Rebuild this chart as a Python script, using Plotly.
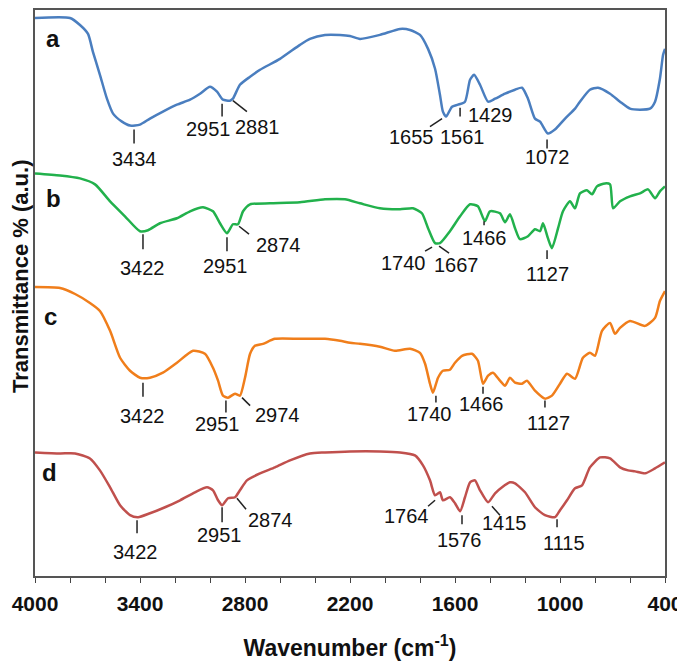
import plotly.graph_objects as go

# FTIR spectra, wavenumber (cm-1) vs. transmittance (arbitrary units, curves offset)
wn_a = [4000, 3800, 3743, 3697, 3669, 3629, 3589, 3554, 3503, 3457, 3400, 3343, 3269, 3189,
        3114, 3057, 3000, 2960, 2926, 2886, 2869, 2829, 2771, 2714, 2600, 2486, 2429, 2343,
        2257, 2200, 2143, 2029, 1914, 1857, 1800, 1754, 1714, 1686, 1669, 1651, 1617, 1583,
        1543, 1514, 1491, 1457, 1411, 1371, 1314, 1257, 1217, 1183, 1143, 1114, 1069, 1029,
        971, 914, 886, 829, 783, 714, 657, 600, 543, 486, 457, 429, 411, 400]
t_a = [560, 560, 553, 544, 526, 503, 479, 464, 456, 452, 453, 459, 466, 473,
       478, 484, 491, 486, 478, 477, 479, 493, 501, 508, 519, 533, 539, 543,
       543, 542, 539, 543, 549, 548, 543, 529, 509, 483, 466, 461, 471, 473,
       476, 498, 503, 493, 476, 479, 484, 488, 490, 479, 459, 456, 444, 448,
       459, 469, 476, 488, 490, 484, 476, 469, 468, 469, 476, 499, 523, 529]

wn_b = [4000, 3857, 3743, 3657, 3571, 3486, 3400, 3354, 3286, 3189, 3114, 3040, 2983, 2943,
        2903, 2869, 2840, 2811, 2771, 2657, 2486, 2343, 2229, 2143, 2029, 1914, 1840, 1789,
        1754, 1714, 1686, 1629, 1571, 1514, 1469, 1429, 1400, 1343, 1314, 1286, 1257, 1229,
        1183, 1143, 1114, 1097, 1069, 1046, 1011, 983, 943, 914, 886, 846, 817, 789,
        743, 714, 697, 657, 600, 543, 497, 457, 429, 400]
t_b = [404, 402, 399, 393, 376, 361, 346, 347, 354, 359, 366, 370, 366, 354,
       344, 353, 353, 366, 373, 374, 375, 378, 378, 374, 369, 368, 369, 364,
       349, 334, 334, 346, 361, 373, 371, 356, 366, 364, 355, 363, 349, 338,
       341, 348, 346, 354, 339, 329, 349, 366, 376, 369, 384, 387, 383, 391,
       394, 393, 369, 376, 381, 384, 388, 379, 386, 391]

wn_c = [4000, 3857, 3771, 3686, 3629, 3571, 3514, 3457, 3400, 3343, 3269, 3189, 3097, 3029,
        2983, 2954, 2926, 2897, 2857, 2829, 2800, 2771, 2743, 2697, 2629, 2486, 2343, 2257,
        2200, 2143, 2029, 1943, 1857, 1800, 1771, 1743, 1726, 1697, 1669, 1629, 1600, 1560,
        1503, 1469, 1440, 1411, 1383, 1343, 1314, 1286, 1257, 1217, 1189, 1143, 1086, 1046,
        1000, 960, 914, 869, 829, 800, 760, 714, 686, 657, 600, 514, 457, 429, 400]
t_c = [290, 289, 283, 274, 266, 246, 219, 206, 199, 199, 204, 214, 226, 223,
       209, 196, 181, 179, 183, 181, 199, 223, 231, 233, 238, 238, 238, 236,
       234, 233, 230, 226, 228, 224, 213, 193, 184, 199, 206, 207, 214, 221,
       223, 216, 193, 201, 204, 196, 191, 199, 194, 193, 196, 186, 178, 181,
       193, 203, 198, 219, 224, 221, 246, 254, 243, 249, 256, 251, 259, 276, 286]

wn_d = [4000, 3857, 3771, 3686, 3629, 3571, 3514, 3457, 3411, 3343, 3257, 3171, 3086, 3017,
        2983, 2954, 2931, 2897, 2857, 2829, 2789, 2714, 2629, 2543, 2429, 2343, 2200, 2029,
        1914, 1829, 1783, 1743, 1714, 1686, 1669, 1629, 1600, 1571, 1543, 1514, 1486, 1457,
        1411, 1371, 1331, 1286, 1257, 1200, 1143, 1086, 1029, 1000, 960, 914, 874, 829,
        771, 714, 657, 611, 571, 514, 457, 400]
t_d = [124, 123, 123, 118, 106, 89, 71, 61, 59, 63, 69, 76, 84, 89,
       86, 76, 71, 78, 79, 86, 96, 103, 109, 116, 123, 124, 125, 125,
       124, 121, 111, 96, 81, 84, 76, 79, 73, 65, 79, 94, 96, 86,
       74, 83, 89, 94, 93, 84, 69, 61, 59, 66, 76, 88, 91, 109,
       119, 118, 109, 106, 105, 103, 108, 114]

names = ['a', 'b', 'c', 'd']
colors = ['#4a7ebf', '#22b14c', '#f07e1b', '#c0504d']
spectra = [(wn_a, t_a), (wn_b, t_b), (wn_c, t_c), (wn_d, t_d)]

# peak labels per curve
peaks_a = ['3434', '2951', '2881', '1655', '1561', '1429', '1072']
peaks_b = ['3422', '2951', '2874', '1740', '1667', '1466', '1127']
peaks_c = ['3422', '2951', '2974', '1740', '1466', '1127']
peaks_d = ['3422', '2951', '2874', '1764', '1576', '1415', '1115']

# label placement: (text x, text y, marker line x0, y0, x1, y1)
place_a = [(3434, 418, 3434, 448, 3434, 434), (3006, 449, 2931, 474, 2931, 461),
           (2731, 451, 2869, 477, 2789, 466), (1851, 441, 1674, 459, 1743, 451),
           (1560, 441, 1571, 470, 1571, 461), (1400, 463, None, None, None, None),
           (1074, 420, 1074, 438, 1074, 429)]
place_b = [(3383, 309, 3383, 343, 3383, 328), (2909, 311, 2903, 340, 2903, 326),
           (2611, 332, 2834, 351, 2777, 343), (1897, 314, 1731, 330, 1771, 326),
           (1589, 312, 1691, 331, 1634, 324), (1434, 339, 1434, 356, 1434, 352),
           (1074, 303, 1074, 327, 1074, 318)]
place_c = [(3383, 161, 3383, 194, 3383, 180), (2960, 153, 2909, 176, 2909, 164),
           (2617, 162, 2817, 179, 2771, 171), (1743, 163, 1709, 181, 1709, 174),
           (1446, 173, 1440, 190, 1440, 183), (1063, 154, 1086, 176, 1086, 169)]
place_d = [(3423, 24, 3417, 56, 3417, 43), (2943, 41, 2931, 69, 2931, 54),
           (2657, 56, 2846, 78, 2794, 67), (1880, 60, 1714, 76, 1754, 70),
           (1577, 36, 1560, 61, 1560, 52), (1320, 53, 1389, 70, 1343, 61),
           (977, 33, 1017, 57, 1017, 49)]
letter_pos = [(3897, 539), (3897, 379), (3914, 260), (3920, 104)]

fig = go.Figure()
for name, color, (wn, t) in zip(names, colors, spectra):
    fig.add_trace(go.Scatter(x=wn, y=t, mode='lines', name=name,
                             line=dict(color=color, width=2.5, shape='spline', smoothing=0.6)))

annotations = []
shapes = []
for labels, places in [(peaks_a, place_a), (peaks_b, place_b), (peaks_c, place_c), (peaks_d, place_d)]:
    for lab, (tx, ty, x0, y0, x1, y1) in zip(labels, places):
        annotations.append(dict(x=tx, y=ty, text=lab, showarrow=False,
                                font=dict(family='Liberation Sans, Arial', size=20, color='#111')))
        if x0 is not None:
            shapes.append(dict(type='line', xref='x', yref='y', x0=x0, y0=y0, x1=x1, y1=y1,
                               line=dict(color='#222', width=1.5)))

for name, (lx, ly) in zip(names, letter_pos):
    annotations.append(dict(x=lx, y=ly, text=name, showarrow=False,
                            font=dict(family='Liberation Sans, Arial', size=24, color='#111',
                                      weight='bold')))

annotations.append(dict(xref='paper', yref='paper', x=0, y=0.53, xshift=-15,
                        xanchor='center', yanchor='middle',
                        text='Transmittance % (a.u.)', textangle=-90, showarrow=False,
                        font=dict(family='Liberation Sans, Arial', size=22, color='#111',
                                  weight='bold')))

# the page body adds 8 px around the figure, so the figure is 8 px smaller
fig.update_layout(
    width=677, height=659,
    margin=dict(l=27, r=20, t=0, b=91),
    plot_bgcolor='white', paper_bgcolor='white',
    showlegend=False,
    annotations=annotations, shapes=shapes,
)
fig.update_xaxes(range=[4000, 400], tick0=400, dtick=600, ticks='outside', ticklen=5,
                 tickcolor='#444', showline=True, linecolor='#555', linewidth=1.5, mirror=True,
                 showgrid=False, zeroline=False, ticklabelstandoff=3,
                 minor=dict(dtick=200, ticks='outside', ticklen=5, tickcolor='#444'),
                 tickfont=dict(family='Liberation Sans, Arial', size=21, color='#111', weight='bold'),
                 title=dict(text='Wavenumber (cm<sup>-1</sup>)', standoff=26,
                            font=dict(family='Liberation Sans, Arial', size=23, color='#111',
                                      weight='bold')))
fig.update_yaxes(range=[0, 568], showticklabels=False, ticks='', showgrid=False, zeroline=False,
                 showline=True, linecolor='#555', linewidth=1.5, mirror=True)

fig.write_html("out.html")
